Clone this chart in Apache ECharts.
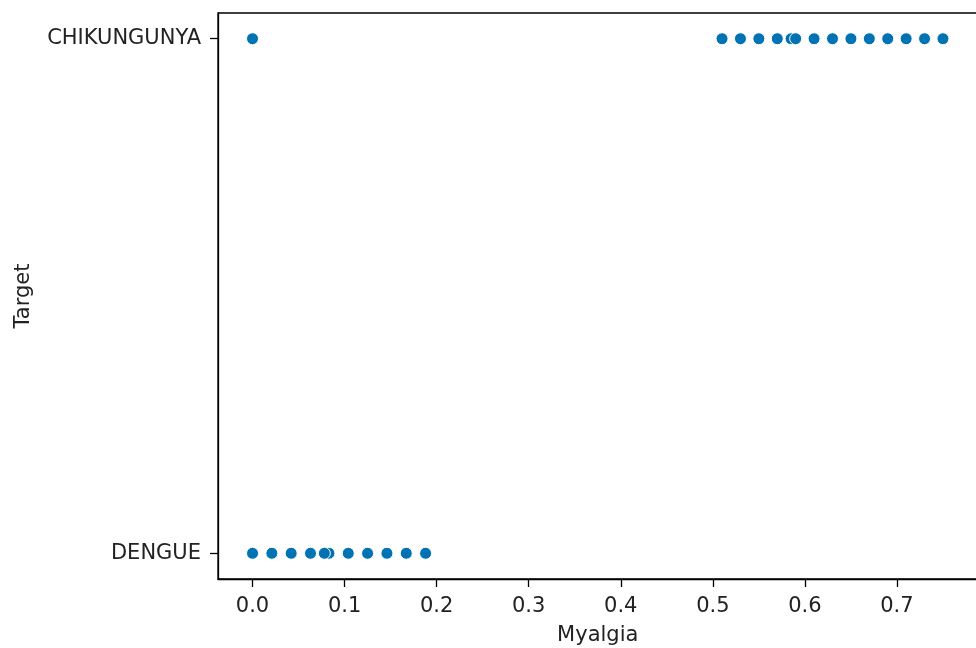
<!DOCTYPE html>
<html>
<head>
<meta charset="utf-8">
<script src="https://cdn.jsdelivr.net/npm/echarts@6/dist/echarts.min.js"></script>
<style>
  html, body { margin: 0; padding: 0; background: #fff; }
  #chart { width: 976px; height: 648px; }
</style>
</head>
<body>
<div id="chart"></div>
<script>
// target classes, bottom to top
const targetLabels = ['DENGUE', 'CHIKUNGUNYA']
// myalgia values per class
const dengueMyalgia = [0, 0.021, 0.042, 0.063, 0.083, 0.078, 0.104, 0.125, 0.146, 0.167, 0.188]
const chikMyalgia = [0, 0.51, 0.53, 0.55, 0.57, 0.585, 0.59, 0.61, 0.63, 0.65, 0.67, 0.69, 0.71, 0.73, 0.75]
const xTicks = [0, 0.1, 0.2, 0.3, 0.4, 0.5, 0.6, 0.7]
const yTicks = [0, 1]

const textColor = '#222'
const font = 'DejaVu Sans'
const fontSize = 21

const points = [
  ...dengueMyalgia.map(v => [v, 0]),
  ...chikMyalgia.map(v => [v, 1])
]

const chart = echarts.init(document.getElementById('chart'), null, { renderer: 'canvas' })
chart.setOption({
  animation: false,
  backgroundColor: '#fff',
  grid: {
    left: 218,
    right: -1.5,
    top: 13,
    bottom: 69,
    outerBoundsMode: 'none',
    show: true,
    borderColor: '#000',
    borderWidth: 1.3
  },
  xAxis: {
    type: 'value',
    min: -0.0375,
    max: 0.7875,
    name: 'Myalgia',
    nameLocation: 'middle',
    nameGap: 46,
    nameTextStyle: { fontFamily: font, fontSize: fontSize, color: textColor },
    axisLine: { onZero: false, lineStyle: { color: '#000', width: 1.3 } },
    axisTick: { customValues: xTicks, length: 8, lineStyle: { color: '#000', width: 1.3 } },
    axisLabel: {
      customValues: xTicks,
      formatter: v => v.toFixed(1),
      margin: 17,
      fontFamily: font,
      fontSize: fontSize,
      color: textColor
    },
    splitLine: { show: false }
  },
  yAxis: {
    type: 'value',
    min: -0.05,
    max: 1.05,
    name: 'Target',
    nameLocation: 'middle',
    nameGap: 184,
    nameTextStyle: { fontFamily: font, fontSize: fontSize, color: textColor },
    axisLine: { onZero: false, lineStyle: { color: '#000', width: 1.3 } },
    axisTick: { customValues: yTicks, length: 8, lineStyle: { color: '#000', width: 1.3 } },
    axisLabel: {
      customValues: yTicks,
      formatter: v => targetLabels[v],
      margin: 17,
      fontFamily: font,
      fontSize: fontSize,
      color: textColor
    },
    splitLine: { show: false }
  },
  series: [
    {
      type: 'scatter',
      data: points,
      symbolSize: 12,
      itemStyle: { color: '#0173b2', opacity: 1, borderColor: '#fff', borderWidth: 1 }
    }
  ]
})
</script>
</body>
</html>
